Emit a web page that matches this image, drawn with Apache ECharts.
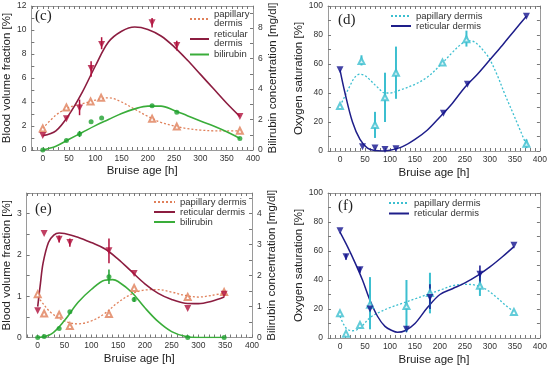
<!DOCTYPE html>
<html><head><meta charset="utf-8">
<script src="https://cdn.jsdelivr.net/npm/echarts@6/dist/echarts.min.js"></script>
<style>html,body{margin:0;padding:0;background:#fff}#c{width:550px;height:368px}</style>
</head><body><div id="c"></div>
<script>
// ---------- tick labels ----------
const xTickLabels = [0,50,100,150,200,250,300,350,400];
const xMinorTicks = [-20,-10,0,10,20,30,40,50,60,70,80,90,100,110,120,130,140,150,160,170,180,190,200,210,220,230,240,250,260,270,280,290,300,310,320,330,340,350,360,370,380,390,400];
const cLeftTicks = [0,2,4,6,8,10,12];
const cRightTicks = [0,2,4,6,8];
const eLeftTicks = [0,1,2,3];
const eRightTicks = [0,1,2,3,4];
const satTicks = [0,20,40,60,80,100];

// ---------- panel (c) ----------
const cPapX = [0,45,91,111,208,255,375];
const cPapY = [1.8,3.55,4.05,4.35,2.6,1.95,1.6];
const cRetX = [0,45,70,92,112,208,255,375];
const cRetY = [1.2,2.6,3.5,6.8,8.8,10.6,8.7,2.8];
const cRetErr = [[70,2.9,4.2],[92,6.1,7.4],[112,8.4,9.4],[208,10.2,11.0],[255,8.3,9.1]];
const cBilX = [0,45,70,92,112,208,255,375];
const cBilY = [0,0.63,1.05,1.85,2.1,2.9,2.48,0.76];
const cBilErr = [[70,0.85,1.25]];
const cCurveX = [0,25,50,75,100,125,150,175,200,225,250,275,300,325,350,375];
const cPapCurve = [1.8,2.9,3.55,3.85,4.15,4.35,4.0,3.4,2.8,2.3,2.0,1.78,1.66,1.6,1.6,1.6];
const cRetCurve = [1.2,1.6,2.95,4.8,7.0,9.0,9.9,10.25,10.05,9.5,8.6,7.5,6.3,5.1,3.9,2.8];
const cBilCurve = [0,0.25,0.7,1.15,1.6,2.0,2.4,2.7,2.88,2.88,2.6,2.25,1.9,1.58,1.2,0.76];

// ---------- panel (d) ----------
const dRetX = [0,45,70,90,112,207,255,373];
const dRetY = [56,3,2,1,1.5,26,46,93];
const dRetCurveX = [0,10,25,40,55,70,85,100,125,150,175,200,225,250,275,300,325,350,373];
const dRetCurveY = [56,40,20,8,2,0.3,0,0.5,3,8,14.5,23.5,33,44,53,63,73,83.5,93];
const dPapX = [0,43,70,90,112,205,253,373];
const dPapY = [31,62,18,37,54,61,77,5];
const dPapErr = [[43,59,66],[70,9,27],[90,20,54],[112,36,72],[253,72,83],[373,2,8]];
const dPapCurveX = [0,10,20,30,40,50,60,75,90,100,120,150,175,200,225,240,255,270,290,300,315,330,350,373];
const dPapCurveY = [31,38,45,51,53,52,49,44,40,40,42,46,51,59,68,73,76,75,68,63,52,39,23,4];

// ---------- panel (e) ----------
const eRetX = [0,12,40,60,133,180,280,348];
const eRetY = [0.65,2.52,2.38,2.3,2.1,1.55,0.7,1.05];
const eRetErr = [[40,2.3,2.47],[60,2.2,2.4],[133,1.8,2.4],[348,1.0,1.12]];
const eRetCurveX = [0,5,10,20,30,40,50,75,100,125,150,175,200,225,250,275,300,325,348];
const eRetCurveY = [0.75,1.3,1.8,2.3,2.48,2.53,2.52,2.43,2.3,2.15,1.9,1.6,1.3,1.07,0.92,0.83,0.82,0.88,0.98];
const ePapX = [0,12,40,60,133,180,280,348];
const ePapY = [1.05,0.58,0.55,0.28,0.57,1.2,0.98,1.1];
const ePapCurveX = [0,10,25,50,75,100,125,150,175,200,225,250,275,300,325,348];
const ePapCurveY = [1.0,0.82,0.6,0.4,0.33,0.4,0.58,0.85,1.05,1.15,1.16,1.1,1.02,0.98,1.02,1.08];
const eBilX = [0,12,40,60,133,180,280,348];
const eBilY = [0,0.03,0.29,0.83,1.96,1.23,0,0];
const eBilErr = [[133,1.73,2.2],[180,1.15,1.31]];
const eBilCurveX = [0,25,50,75,100,125,140,150,175,200,225,250,275,300,325,348];
const eBilCurveY = [0,0.11,0.55,1.13,1.55,1.85,1.87,1.81,1.47,0.96,0.51,0.19,0.04,0,0,0];

// ---------- panel (f) ----------
const fRetX = [0,12,40,60,133,180,280,348];
const fRetY = [74,56,47,20,6,28,44,64];
const fRetErr = [[12,54,58],[40,45,49],[180,20,37],[280,38,50]];
const fRetCurveX = [0,15,30,45,60,75,90,105,115,130,150,175,200,225,250,275,300,325,348];
const fRetCurveY = [73,63,52,40,26,15,8,5,4,5,10,21,30,34,38,43,49,56,63];
const fPapX = [0,12,40,60,133,180,280,348];
const fPapY = [17,3,9,23,22,31,36,18];
const fPapErr = [[60,6,42],[133,4,40],[180,17,45],[280,29,43]];
const fPapCurveX = [0,8,15,25,40,60,80,100,125,150,175,200,225,250,270,290,310,330,348];
const fPapCurveY = [15,9,6,5,7,14,18,21,24,27,30,33,36,37,36.5,34,29,23,18];

// ---------- styling ----------
const FONT = '"Liberation Sans", Arial, sans-serif';
const FRAME = '#9a9a9a';
const RED_LINE = '#8c1d40', RED_PT = '#b0103c';
const ORANGE = '#e0805a';
const GREEN_LINE = '#3aad3a', GREEN_PT = '#1fa030';
const NAVY_LINE = '#1e1e8a', NAVY_PT = '#14148f';
const CYAN = '#3cbfd0';
const NAME_SIZE = 11.5;

const pairs = (xs, ys) => xs.map((x, i) => [x, ys[i]]);

const grids = [
  {left: 26, top: 6, width: 227, height: 144},
  {left: 328, top: 6, width: 212, height: 145},
  {left: 22, top: 193, width: 230, height: 144.5},
  {left: 328, top: 193, width: 212.5, height: 145}
];
const xMins = [-21.7, -24, -20.7, -24];
const xNameGaps = [14.5, 16, 15, 16];

const xAxes = [], yAxes = [];
grids.forEach((g, i) => {
  const common = {type: 'value', gridIndex: i, min: xMins[i], max: 400,
    axisLine: {show: true, onZero: false, lineStyle: {color: FRAME, width: 1}},
    splitLine: {show: false}};
  xAxes.push(Object.assign({}, common, {position: 'bottom',
    axisTick: {show: true, inside: true, length: 3, customValues: xMinorTicks, lineStyle: {color: '#777'}},
    axisLabel: {customValues: xTickLabels, fontSize: 8.5, color: '#333', margin: 4, fontFamily: FONT},
    name: 'Bruise age [h]', nameLocation: 'middle', nameGap: xNameGaps[i],
    nameTextStyle: {fontSize: NAME_SIZE, color: '#222', fontFamily: FONT}}));
  xAxes.push(Object.assign({}, common, {position: 'top',
    axisTick: {show: true, inside: true, length: 3, customValues: xMinorTicks, lineStyle: {color: '#777'}},
    axisLabel: {show: false}}));
});

function yAx(grid, pos, max, labels, ticks, name, nameGap) {
  return {type: 'value', gridIndex: grid, position: pos, min: 0, max: max,
    axisLine: {show: true, onZero: false, lineStyle: {color: FRAME, width: 1}},
    splitLine: {show: false},
    axisTick: {show: true, inside: true, length: 3, customValues: ticks, lineStyle: {color: '#777'}},
    axisLabel: labels ? {customValues: labels, fontSize: 8.5, color: '#333', margin: 5, fontFamily: FONT} : {show: false},
    name: name || '', nameLocation: 'middle', nameGap: nameGap || 0,
    nameTextStyle: {fontSize: NAME_SIZE, color: '#222', fontFamily: FONT}};
}
const cLeftMinor = [0,1,2,3,4,5,6,7,8,9,10,11,12];
const cRightMinor = [0,1,2,3,4,5,6,7,8,9];
const eLeftMinor = [0,0.5,1,1.5,2,2.5,3,3.5];
const eRightMinor = [0,0.5,1,1.5,2,2.5,3,3.5,4,4.5];
const satMinor = [0,10,20,30,40,50,60,70,80,90,100];
yAxes.push(yAx(0, 'left', 12, cLeftTicks, cLeftMinor, 'Blood volume fraction [%]', 13.5));
yAxes.push(yAx(0, 'right', 9.45, cRightTicks, cRightMinor, 'Bilirubin concentration [mg/dl]', 14));
yAxes.push(yAx(1, 'left', 100, satTicks, satMinor, 'Oxygen saturation [%]', 17.5));
yAxes.push(yAx(1, 'right', 100, null, satMinor));
yAxes.push(yAx(2, 'left', 3.5, eLeftTicks, eLeftMinor, 'Blood volume fraction [%]', 10));
yAxes.push(yAx(2, 'right', 4.667, eRightTicks, eRightMinor, 'Bilirubin concentration [mg/dl]', 14));
yAxes.push(yAx(3, 'left', 100, satTicks, satMinor, 'Oxygen saturation [%]', 17.5));
yAxes.push(yAx(3, 'right', 100, null, satMinor));

const series = [];
function curve(name, grid, yIdx, xs, ys, color, dashed, width) {
  series.push({type: 'line', name: name, xAxisIndex: grid * 2, yAxisIndex: grid * 2 + yIdx,
    data: pairs(xs, ys), smooth: 0.35, symbol: 'none', silent: true, z: 2,
    lineStyle: {color: color, width: width, type: dashed ? [2, 2] : 'solid'},
    itemStyle: {color: color}});
}
function points(name, grid, yIdx, xs, ys, color, symbol, size, rotate) {
  series.push({type: 'scatter', name: name, xAxisIndex: grid * 2, yAxisIndex: grid * 2 + yIdx,
    data: pairs(xs, ys), symbol: symbol, symbolSize: size, symbolRotate: rotate || 0, z: 4, silent: true,
    itemStyle: {color: color, borderWidth: symbol.indexOf('empty') === 0 ? 1 : 0}});
}
function errs(grid, yIdx, data, color, w) {
  series.push({type: 'custom', xAxisIndex: grid * 2, yAxisIndex: grid * 2 + yIdx, z: 3, silent: true,
    data: data,
    renderItem: function (params, api) {
      const p1 = api.coord([api.value(0), api.value(1)]);
      const p2 = api.coord([api.value(0), api.value(2)]);
      return {type: 'line', shape: {x1: p1[0], y1: p1[1], x2: p2[0], y2: p2[1]},
        style: {stroke: color, lineWidth: w}};
    }});
}

// (c)
curve('c_pap', 0, 0, cCurveX, cPapCurve, ORANGE, true, 1.3);
curve('c_ret', 0, 0, cCurveX, cRetCurve, RED_LINE, false, 1.6);
curve('c_bil', 0, 1, cCurveX, cBilCurve, GREEN_LINE, false, 1.6);
errs(0, 0, cRetErr, RED_PT, 1.5);
errs(0, 1, cBilErr, GREEN_PT, 1.5);
points('c_pap_pts', 0, 0, cPapX, cPapY, ORANGE, 'emptyTriangle', 6);
points('c_ret_pts', 0, 0, cRetX, cRetY, RED_PT, 'triangle', 7, 180);
points('c_bil_pts', 0, 1, cBilX, cBilY, GREEN_PT, 'circle', 5);
// (d)
curve('d_pap', 1, 0, dPapCurveX, dPapCurveY, CYAN, true, 1.3);
curve('d_ret', 1, 0, dRetCurveX, dRetCurveY, NAVY_LINE, false, 1.5);
errs(1, 0, dPapErr, CYAN, 2);
points('d_pap_pts', 1, 0, dPapX, dPapY, CYAN, 'emptyTriangle', 6);
points('d_ret_pts', 1, 0, dRetX, dRetY, NAVY_PT, 'triangle', 7, 180);
// (e)
curve('e_pap', 2, 0, ePapCurveX, ePapCurveY, ORANGE, true, 1.3);
curve('e_ret', 2, 0, eRetCurveX, eRetCurveY, RED_LINE, false, 1.6);
curve('e_bil', 2, 1, eBilCurveX, eBilCurveY, GREEN_LINE, false, 1.6);
errs(2, 0, eRetErr, RED_PT, 1.5);
errs(2, 1, eBilErr, GREEN_PT, 1.5);
points('e_pap_pts', 2, 0, ePapX, ePapY, ORANGE, 'emptyTriangle', 6);
points('e_ret_pts', 2, 0, eRetX, eRetY, RED_PT, 'triangle', 7, 180);
points('e_bil_pts', 2, 1, eBilX, eBilY, GREEN_PT, 'circle', 5);
// (f)
curve('f_pap', 3, 0, fPapCurveX, fPapCurveY, CYAN, true, 1.3);
curve('f_ret', 3, 0, fRetCurveX, fRetCurveY, NAVY_LINE, false, 1.5);
errs(3, 0, fPapErr, CYAN, 2);
errs(3, 0, fRetErr, NAVY_PT, 1.5);
points('f_pap_pts', 3, 0, fPapX, fPapY, CYAN, 'emptyTriangle', 6);
points('f_ret_pts', 3, 0, fRetX, fRetY, NAVY_PT, 'triangle', 7, 180);

const legendText = {
  c_pap: 'papillary\ndermis', c_ret: 'reticular\ndermis', c_bil: 'bilirubin',
  d_pap: 'papillary dermis', d_ret: 'reticular dermis',
  e_pap: 'papillary dermis', e_ret: 'reticular dermis', e_bil: 'bilirubin',
  f_pap: 'papillary dermis', f_ret: 'reticular dermis'
};
function legend(data, left, top, w, gap) {
  return {orient: 'vertical', left: left, top: top, itemWidth: w, itemHeight: 8, itemGap: gap,
    selectedMode: false, padding: 0, data: data,
    itemStyle: {opacity: 0},
    formatter: n => legendText[n],
    textStyle: {fontSize: 9.5, lineHeight: 9, color: '#333', fontFamily: FONT}};
}

const chart = echarts.init(document.getElementById('c'), null, {renderer: 'canvas'});
chart.setOption({
  animation: false,
  backgroundColor: '#fff',
  grid: grids,
  xAxis: xAxes,
  yAxis: yAxes,
  legend: [
    legend(['c_pap', 'c_ret', 'c_bil'], 189, 9.5, 19, 1),
    legend(['d_pap', 'd_ret'], 390, 11, 20, 0),
    legend(['e_pap', 'e_ret', 'e_bil'], 153, 197, 21, 0),
    legend(['f_pap', 'f_ret'], 388, 198, 20, 0.5)
  ],
  graphic: [
    {type: 'text', left: 35, top: 9, style: {text: '(c)', font: '15px "Liberation Serif", serif', fill: '#222'}},
    {type: 'text', left: 338, top: 13, style: {text: '(d)', font: '15px "Liberation Serif", serif', fill: '#222'}},
    {type: 'text', left: 35, top: 202, style: {text: '(e)', font: '15px "Liberation Serif", serif', fill: '#222'}},
    {type: 'text', left: 338, top: 199, style: {text: '(f)', font: '15px "Liberation Serif", serif', fill: '#222'}}
  ],
  series: series
});
</script>
</body></html>
